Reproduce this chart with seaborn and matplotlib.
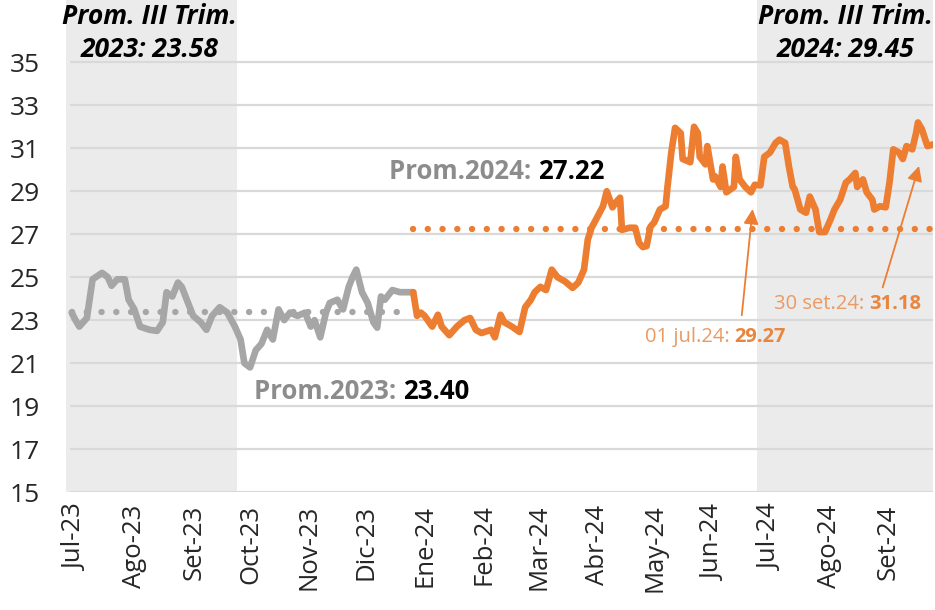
import matplotlib
matplotlib.use("Agg")
import matplotlib.pyplot as plt
import matplotlib.transforms as mtransforms
import numpy as np
import pandas as pd
import seaborn as sns

# serie 2023 (gris)
fechas_2023 = ["2023-07-04", "2023-07-06", "2023-07-08", "2023-07-12", "2023-07-15", "2023-07-20",
               "2023-07-23", "2023-07-25", "2023-07-28", "2023-08-01", "2023-08-03", "2023-08-06",
               "2023-08-09", "2023-08-14", "2023-08-18", "2023-08-21", "2023-08-23", "2023-08-26",
               "2023-08-29", "2023-08-31", "2023-09-02", "2023-09-06", "2023-09-10", "2023-09-13",
               "2023-09-16", "2023-09-20", "2023-09-24", "2023-09-28", "2023-10-01", "2023-10-03",
               "2023-10-06", "2023-10-09", "2023-10-12", "2023-10-15", "2023-10-18", "2023-10-21",
               "2023-10-24", "2023-10-27", "2023-10-31", "2023-11-04", "2023-11-07", "2023-11-09",
               "2023-11-12", "2023-11-15", "2023-11-17", "2023-11-21", "2023-11-24", "2023-11-27",
               "2023-11-29", "2023-12-01", "2023-12-04", "2023-12-07", "2023-12-10", "2023-12-12",
               "2023-12-14", "2023-12-16", "2023-12-20", "2023-12-24", "2023-12-31"]
valores_2023 = [23.35, 23.0, 22.7, 23.1, 24.9, 25.2,
                25.0, 24.6, 24.9, 24.9, 23.95, 23.5,
                22.7, 22.55, 22.5, 22.9, 24.3, 24.1,
                24.75, 24.55, 24.1, 23.2, 22.9, 22.55,
                23.2, 23.6, 23.35, 22.7, 22.1, 21.0,
                20.8, 21.6, 21.9, 22.55, 22.1, 23.5,
                23.0, 23.35, 23.2, 23.35, 22.7, 23.0,
                22.2, 23.35, 23.8, 23.95, 23.5, 24.55,
                25.0, 25.35, 24.3, 23.8, 22.9, 22.65,
                24.1, 23.95, 24.4, 24.3, 24.3]

# serie 2024 (naranja)
fechas_2024 = ["2024-01-02", "2024-01-04", "2024-01-06", "2024-01-10", "2024-01-13", "2024-01-15",
               "2024-01-19", "2024-01-23", "2024-01-27", "2024-01-30", "2024-02-02", "2024-02-05",
               "2024-02-10", "2024-02-12", "2024-02-15", "2024-02-17", "2024-02-21", "2024-02-25",
               "2024-02-28", "2024-03-02", "2024-03-04", "2024-03-07", "2024-03-10", "2024-03-13",
               "2024-03-16", "2024-03-20", "2024-03-24", "2024-03-27", "2024-03-30", "2024-04-01",
               "2024-04-03", "2024-04-06", "2024-04-09", "2024-04-11", "2024-04-14", "2024-04-16",
               "2024-04-18", "2024-04-19", "2024-04-23", "2024-04-26", "2024-04-28", "2024-04-30",
               "2024-05-02", "2024-05-04", "2024-05-06", "2024-05-09", "2024-05-12", "2024-05-13",
               "2024-05-15", "2024-05-17", "2024-05-20", "2024-05-21", "2024-05-25", "2024-05-27",
               "2024-05-29", "2024-05-30", "2024-06-02", "2024-06-03", "2024-06-06", "2024-06-07",
               "2024-06-10", "2024-06-11", "2024-06-13", "2024-06-17", "2024-06-18", "2024-06-20",
               "2024-06-23", "2024-06-26", "2024-06-28", "2024-07-01", "2024-07-03", "2024-07-06",
               "2024-07-09", "2024-07-11", "2024-07-14", "2024-07-16", "2024-07-18", "2024-07-19",
               "2024-07-22", "2024-07-25", "2024-07-27", "2024-07-30", "2024-08-01", "2024-08-04",
               "2024-08-07", "2024-08-09", "2024-08-12", "2024-08-15", "2024-08-17", "2024-08-20",
               "2024-08-21", "2024-08-24", "2024-08-26", "2024-08-29", "2024-08-30", "2024-09-02",
               "2024-09-05", "2024-09-07", "2024-09-09", "2024-09-12", "2024-09-14", "2024-09-16",
               "2024-09-19", "2024-09-21", "2024-09-22", "2024-09-24", "2024-09-27", "2024-09-30"]
valores_2024 = [23.2, 23.35, 23.2, 22.7, 23.25, 22.7,
                22.3, 22.7, 23.0, 23.1, 22.55, 22.4,
                22.55, 22.2, 23.25, 22.9, 22.7, 22.45,
                23.6, 23.95, 24.3, 24.55, 24.4, 25.35,
                25.0, 24.8, 24.5, 24.75, 25.35, 26.75,
                27.3, 27.8, 28.3, 29.0, 28.25, 28.5,
                28.7, 27.2, 27.3, 27.3, 26.6, 26.4,
                26.45, 27.35, 27.55, 28.15, 28.3, 29.2,
                30.8, 31.95, 31.7, 30.5, 30.35, 32.0,
                31.7, 30.6, 30.25, 31.1, 29.55, 29.7,
                29.2, 30.15, 28.95, 29.2, 30.6, 29.55,
                29.2, 28.95, 29.3, 29.27, 30.6, 30.8,
                31.25, 31.4, 31.25, 30.15, 29.2, 29.1,
                28.15, 28.0, 28.75, 28.15, 27.1, 27.1,
                27.7, 28.15, 28.6, 29.4, 29.55, 29.85,
                29.2, 29.55, 28.95, 28.6, 28.15, 28.3,
                28.25, 29.4, 30.95, 30.8, 30.5, 31.1,
                30.95, 31.7, 32.2, 31.9, 31.1, 31.18]

prom_2023 = 23.40
prom_2024 = 27.22
prom_trim_2023 = 23.58
prom_trim_2024 = 29.45
val_1jul = 29.27
val_30set = 31.18

meses = ["Jul-23", "Ago-23", "Set-23", "Oct-23", "Nov-23", "Dic-23", "Ene-24", "Feb-24",
         "Mar-24", "Abr-24", "May-24", "Jun-24", "Jul-24", "Ago-24", "Set-24"]

gris = "#A6A6A6"
naranja = "#ED7D31"
naranja_txt = "#EA9A62"
naranja_num = "#E8863F"

df23 = pd.DataFrame({"fecha": pd.to_datetime(fechas_2023), "valor": valores_2023})
df24 = pd.DataFrame({"fecha": pd.to_datetime(fechas_2024), "valor": valores_2024})
# une la serie naranja con el ultimo punto gris
df24 = pd.concat([df23.tail(1), df24], ignore_index=True)

sns.set_style("white")
plt.rcParams['font.family'] = ['Open Sans', 'DejaVu Sans']

fig = plt.figure(figsize=(9.35, 6.1), dpi=100)
ax = fig.add_axes([0.0706, 0.1934, 0.9274, 0.8066])

# trimestres sombreados
ax.axvspan(pd.Timestamp("2023-07-01"), pd.Timestamp("2023-09-29"), color="#EBEBEB", zorder=0, lw=0)
ax.axvspan(pd.Timestamp("2024-06-29"), pd.Timestamp("2024-09-30"), color="#EBEBEB", zorder=0, lw=0)

for v in range(15, 36, 2):
    ax.axhline(v, xmin=0.006, color="#D9D9D9", lw=1.6, zorder=1)

# promedios anuales
ax.plot(pd.to_datetime(["2023-07-04", "2023-12-28"]), [prom_2023, prom_2023], color=gris,
        lw=4.6, ls=(0, (0.01, 2.3)), dash_capstyle="round", zorder=2)
ax.plot(pd.to_datetime(["2023-12-31", "2024-09-30"]), [prom_2024, prom_2024], color=naranja,
        lw=4.6, ls=(0, (0.01, 2.3)), dash_capstyle="round", zorder=2)

sns.lineplot(data=df23, x="fecha", y="valor", color=gris, lw=4.8, ax=ax, zorder=3)
sns.lineplot(data=df24, x="fecha", y="valor", color=naranja, lw=4.8, ax=ax, zorder=3)

ax.set_xlim(pd.Timestamp("2023-07-01"), pd.Timestamp("2024-09-30"))
ax.set_ylim(15, 37.9)
ax.set_yticks(range(15, 36, 2))
ax.tick_params(axis="y", labelsize=19, length=0, pad=19, labelcolor="#262626")
ticks = pd.date_range("2023-07-01", "2024-09-01", freq="MS")
ax.set_xticks(ticks)
ax.set_xticklabels(meses, rotation=90, fontsize=18.5, color="#262626")
ax.tick_params(axis="x", length=0, pad=9)
off = mtransforms.ScaledTranslation(10 / 100, 0, fig.dpi_scale_trans)
for lab in ax.get_xticklabels():
    lab.set_transform(lab.get_transform() + off)
ax.set_xlabel("")
ax.set_ylabel("")
for s in ax.spines.values():
    s.set_visible(False)

# textos
ax.text(pd.Timestamp("2023-08-14"), 36.35, "Prom. III Trim.\n2023: %.2f" % prom_trim_2023,
        ha="center", va="center", fontsize=19, fontweight="bold", fontstyle="italic",
        linespacing=1.3, color="black", zorder=5)
ax.text(pd.Timestamp("2024-08-15"), 36.35, "Prom. III Trim.\n2024: %.2f" % prom_trim_2024,
        ha="center", va="center", fontsize=19, fontweight="bold", fontstyle="italic",
        linespacing=1.3, color="black", zorder=5)

t1 = ax.text(pd.Timestamp("2023-10-08"), 19.66, "Prom.2023: ", ha="left", va="center",
             fontsize=18.5, fontweight="bold", color="#8C8C8C", zorder=5)
ax.annotate("%.2f" % prom_2023, xy=(1, 0), xycoords=t1, va="bottom", ha="left",
            fontsize=18.5, fontweight="bold", color="black")
t2 = ax.text(pd.Timestamp("2023-12-18"), 29.9, "Prom.2024: ", ha="left", va="center",
             fontsize=18.5, fontweight="bold", color="#8C8C8C", zorder=5)
ax.annotate("%.2f" % prom_2024, xy=(1, 0), xycoords=t2, va="bottom", ha="left",
            fontsize=18.5, fontweight="bold", color="black")

t3 = ax.text(pd.Timestamp("2024-05-01"), 22.2, "01 jul.24: ", ha="left", va="center",
             fontsize=14.5, color=naranja_txt, zorder=5)
ax.annotate("%.2f" % val_1jul, xy=(1, 0), xycoords=t3, va="bottom", ha="left",
            fontsize=14.5, fontweight="bold", color=naranja_num)
t4 = ax.text(pd.Timestamp("2024-07-08"), 23.75, "30 set.24: ", ha="left", va="center",
             fontsize=14.5, color=naranja_txt, zorder=5)
ax.annotate("%.2f" % val_30set, xy=(1, 0), xycoords=t4, va="bottom", ha="left",
            fontsize=14.5, fontweight="bold", color=naranja_num)

flecha = dict(arrowstyle="-|>,head_length=0.9,head_width=0.45", color=naranja, lw=1.3)
ax.annotate("", xy=(pd.Timestamp("2024-06-27"), 28.3), xytext=(pd.Timestamp("2024-06-21"), 23.1),
            arrowprops=flecha, zorder=5)
ax.annotate("", xy=(pd.Timestamp("2024-09-23"), 30.3), xytext=(pd.Timestamp("2024-09-03"), 24.4),
            arrowprops=flecha, zorder=5)

fig.savefig("out.png", dpi=100)
